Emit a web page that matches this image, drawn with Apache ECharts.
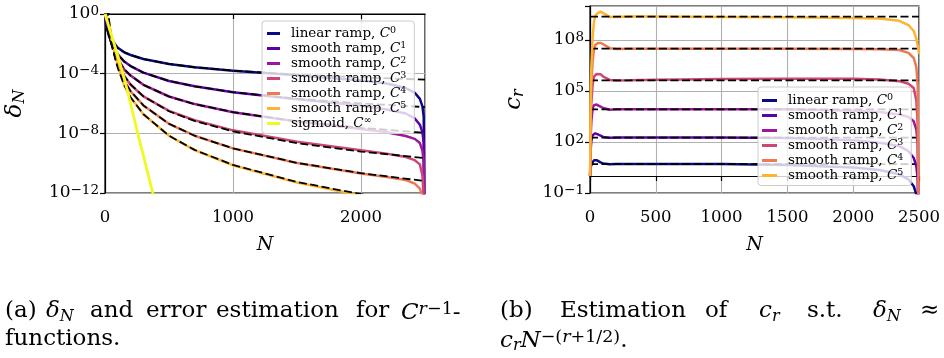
<!DOCTYPE html>
<html>
<head>
<meta charset="utf-8">
<script src="https://cdn.jsdelivr.net/npm/echarts@6/dist/echarts.min.js"></script>
<style>
  html, body { margin: 0; padding: 0; background: #fff; }
  #chart { width: 944px; height: 358px; }
</style>
</head>
<body>
<div id="chart"></div>
<script>
const FONT = 'DejaVu Serif';

// sample positions N used for the solid curves of both panels
const nSolid = [1, 5, 10, 20, 30, 40, 50, 60, 80, 100, 150, 200, 300, 500, 700, 1000, 1500, 2000, 2200, 2350, 2420, 2460, 2480, 2490, 2500];

// panel (a): log10(delta_N)
const deltaC0 = [0, -0.5, -0.85, -1.15, -1.30, -1.47, -1.62, -1.79, -2.05, -2.26, -2.57, -2.75, -3.02, -3.35, -3.57, -3.80, -4.11, -4.45, -4.66, -4.96, -5.28, -5.69, -6.19, -6.89, -20];
const deltaC1 = [0, -0.2, -0.45, -0.85, -1.20, -1.50, -1.76, -2.00, -2.38, -2.70, -3.19, -3.49, -3.93, -4.49, -4.85, -5.24, -5.71, -6.14, -6.40, -6.67, -7.00, -7.42, -7.93, -8.63, -20];
const deltaC2 = [0, -0.1, -0.3, -0.6, -1.0, -1.42, -1.75, -2.05, -2.58, -3.0, -3.72, -4.13, -4.75, -5.53, -6.04, -6.58, -7.20, -7.71, -7.93, -8.18, -8.37, -8.65, -9.16, -9.97, -20];
const deltaC3 = [0, -0.05, -0.2, -0.5, -0.8, -1.25, -1.65, -1.97, -2.57, -3.15, -4.14, -4.74, -5.52, -6.49, -7.12, -7.80, -8.57, -9.14, -9.36, -9.59, -9.80, -10.08, -10.84, -12.25, -20];
const deltaC4 = [0, -0.03, -0.15, -0.4, -0.7, -1.1, -1.55, -1.96, -2.64, -3.25, -4.45, -5.19, -6.13, -7.36, -8.16, -9.01, -9.99, -10.69, -10.93, -11.13, -11.37, -11.71, -12.28, -13.39, -20];
const deltaC5 = [0, -0.02, -0.1, -0.3, -0.55, -1.0, -1.5, -1.95, -2.70, -3.42, -4.78, -5.60, -6.72, -8.16, -9.12, -10.14, -11.30, -12.16, -12.46, -12.78, -13.12, -13.51, -13.98, -14.39, -14.91];

const nSigmoid = [0, 50, 100, 150, 200, 250, 300, 350, 400];
const deltaSigmoid = [0, -1.4, -2.8, -4.3, -6.0, -7.8, -9.5, -11.2, -12.9];

// dashed error estimation c_r N^-(r+1/2), log10
const nEstimate = [2, 5, 10, 20, 30, 40, 50, 60, 80, 100, 150, 200, 300, 500, 700, 1000, 1500, 2000, 2500];
const estC0 = [0.25, -0.35, -0.80, -1.25, -1.52, -1.70, -1.85, -1.97, -2.15, -2.30, -2.56, -2.75, -3.02, -3.35, -3.57, -3.80, -4.06, -4.25, -4.40];
const estC1 = [1.51, 0.51, -0.24, -0.99, -1.43, -1.75, -1.99, -2.19, -2.50, -2.74, -3.18, -3.49, -3.93, -4.49, -4.85, -5.24, -5.68, -5.99, -6.24];
const estC2 = [2.87, 1.47, 0.42, -0.63, -1.25, -1.69, -2.03, -2.30, -2.74, -3.08, -3.70, -4.13, -4.75, -5.53, -6.04, -6.58, -7.20, -7.63, -7.97];
const estC3 = [4.27, 2.48, 1.13, -0.22, -1.02, -1.58, -2.02, -2.37, -2.93, -3.37, -4.16, -4.72, -5.52, -6.52, -7.17, -7.87, -8.66, -9.22, -9.66];
const estC4 = [5.83, 3.65, 1.99, 0.33, -0.63, -1.32, -1.86, -2.29, -2.98, -3.51, -4.48, -5.17, -6.13, -7.36, -8.16, -9.01, -9.98, -10.67, -11.20];
const estC5 = [7.42, 4.84, 2.88, 0.92, -0.22, -1.03, -1.66, -2.18, -2.99, -3.62, -4.76, -5.58, -6.72, -8.16, -9.11, -10.12, -11.26, -12.08, -12.71];

// panel (b): log10(c_r)
const cC0 = [0, 0.55, 0.65, 0.80, 0.92, 0.93, 0.93, 0.88, 0.80, 0.74, 0.69, 0.70, 0.70, 0.70, 0.70, 0.70, 0.65, 0.50, 0.35, 0.10, -0.20, -0.60, -1.10, -1.80, -5];
const cC1 = [0, 1.55, 2.05, 2.40, 2.49, 2.51, 2.49, 2.45, 2.38, 2.30, 2.25, 2.26, 2.26, 2.26, 2.26, 2.26, 2.23, 2.11, 1.96, 1.76, 1.46, 1.06, 0.56, -0.14, -5];
const cC2 = [0, 2.35, 3.20, 3.95, 4.17, 4.19, 4.20, 4.17, 4.08, 4.00, 3.90, 3.92, 3.92, 3.92, 3.92, 3.92, 3.92, 3.84, 3.77, 3.62, 3.47, 3.22, 2.72, 1.92, -5];
const cC3 = [0, 3.10, 4.30, 5.36, 5.85, 5.96, 6.00, 6.03, 5.99, 5.85, 5.65, 5.62, 5.63, 5.66, 5.68, 5.70, 5.72, 5.72, 5.68, 5.58, 5.43, 5.18, 4.43, 3.03, -5];
const cC4 = [0, 3.82, 5.35, 6.76, 7.42, 7.71, 7.80, 7.82, 7.83, 7.75, 7.52, 7.47, 7.49, 7.49, 7.49, 7.49, 7.48, 7.47, 7.45, 7.41, 7.24, 6.94, 6.39, 5.29, -5];
const cC5 = [0, 4.52, 6.40, 8.16, 9.05, 9.41, 9.54, 9.61, 9.67, 9.58, 9.36, 9.36, 9.38, 9.38, 9.37, 9.36, 9.34, 9.30, 9.26, 9.13, 8.88, 8.53, 8.08, 7.68, 7.18];
// dashed constant estimates (log10 c_r)
const cLevel = [0.70, 2.26, 3.92, 5.63, 7.49, 9.38];
const nLevel = [0, 2500];

const labelText = ['linear ramp, ', 'smooth ramp, ', 'smooth ramp, ', 'smooth ramp, ', 'smooth ramp, ', 'smooth ramp, ', 'sigmoid, '];
const labelSup = ['0', '1', '2', '3', '4', '5', '∞'];
const colors = ['#0d0887', '#5c01a6', '#9c179e', '#cc4778', '#ed7953', '#fdb42f', '#f0f921'];

const deltaSets = [deltaC0, deltaC1, deltaC2, deltaC3, deltaC4, deltaC5];
const estSets = [estC0, estC1, estC2, estC3, estC4, estC5];
const cSets = [cC0, cC1, cC2, cC3, cC4, cC5];

const pairs = (xs, ys) => xs.map((x, i) => [x, ys[i]]);
const names = labelText.map((t, i) => t + 'C' + labelSup[i]);
const legendRich = {};
names.forEach((n, i) => { legendRich[n] = '{t|' + labelText[i] + '}{c|C}{s|' + labelSup[i] + '}'; });

// exponent on the axis -> 10^n label
const pow10 = max => v => (v === max ? '' : '{b|10}{s|' + (v < 0 ? '−' + (-v) : v) + '}');

const tickRich = {
  b: { fontFamily: FONT, fontSize: 17, lineHeight: 20, color: '#000' },
  s: { fontFamily: FONT, fontSize: 13.5, lineHeight: 8, verticalAlign: 'top', color: '#000' }
};

const legendTextRich = {
  t: { fontFamily: FONT, fontSize: 13.5, lineHeight: 15, color: '#000' },
  c: { fontFamily: FONT, fontSize: 13.5, fontStyle: 'italic', lineHeight: 15, color: '#000' },
  s: { fontFamily: FONT, fontSize: 9.5, lineHeight: 6, verticalAlign: 'top', color: '#000' }
};

const capRich = {
  i: { fontFamily: FONT, fontSize: 23, fontStyle: 'italic', lineHeight: 26, color: '#000' },
  sub: { fontFamily: FONT, fontSize: 16, fontStyle: 'italic', lineHeight: 14, verticalAlign: 'bottom', color: '#000' },
  sup: { fontFamily: FONT, fontSize: 17.5, lineHeight: 8, verticalAlign: 'top', color: '#000' },
  supi: { fontFamily: FONT, fontSize: 17.5, fontStyle: 'italic', lineHeight: 8, verticalAlign: 'top', color: '#000' }
};

function xAxisOf(grid, interval) {
  return {
    type: 'value', gridIndex: grid, min: 0, max: 2500, interval: interval,
    name: 'N', nameLocation: 'middle', nameGap: 43,
    nameTextStyle: { fontFamily: FONT, fontStyle: 'italic', fontSize: 19, color: '#000' },
    axisLine: { lineStyle: { color: '#000', width: 1.2 } },
    axisTick: { inside: false, length: 5, lineStyle: { color: '#000', width: 1.2 } },
    axisLabel: { fontFamily: FONT, fontSize: 16.5, color: '#000', margin: 16, showMaxLabel: grid === 1, formatter: v => String(v) },
    splitLine: { show: true, lineStyle: { color: '#b0b0b0', width: 1.1 } }
  };
}

function yAxisOf(grid, min, max, interval, name, gap) {
  return {
    type: 'value', gridIndex: grid, min: min, max: max, interval: interval,
    name: name, nameLocation: 'middle', nameRotate: 90, nameGap: gap,
    nameTextStyle: { rich: capRich, fontFamily: FONT, fontSize: 19, color: '#000' },
    axisLine: { lineStyle: { color: '#000', width: 1.2 } },
    axisTick: { inside: false, length: 5, lineStyle: { color: '#000', width: 1.2 } },
    axisLabel: { formatter: pow10(grid === 0 ? null : max), rich: tickRich, margin: 6 },
    splitLine: { show: true, lineStyle: { color: '#b0b0b0', width: 1.1 } }
  };
}

const series = [];
deltaSets.forEach((d, i) => {
  series.push({
    name: names[i], type: 'line', xAxisIndex: 0, yAxisIndex: 0, data: pairs(nSolid, d),
    symbol: 'none', lineStyle: { color: colors[i], width: 2.5 }, itemStyle: { color: colors[i] }
  });
  series.push({
    name: 'estimate a' + i, type: 'line', xAxisIndex: 0, yAxisIndex: 0, data: pairs(nEstimate, estSets[i]),
    symbol: 'none', silent: true, lineStyle: { color: '#000', width: 1.8, type: [8, 3.5] }
  });
});
series.push({
  name: names[6], type: 'line', xAxisIndex: 0, yAxisIndex: 0, data: pairs(nSigmoid, deltaSigmoid),
  symbol: 'none', lineStyle: { color: colors[6], width: 2.8 }, itemStyle: { color: colors[6] }
});
cSets.forEach((c, i) => {
  series.push({
    name: names[i], type: 'line', xAxisIndex: 1, yAxisIndex: 1, data: pairs(nSolid, c),
    symbol: 'none', lineStyle: { color: colors[i], width: 2.5 }, itemStyle: { color: colors[i] }
  });
  series.push({
    name: 'estimate b' + i, type: 'line', xAxisIndex: 1, yAxisIndex: 1, data: pairs(nLevel, [cLevel[i], cLevel[i]]),
    symbol: 'none', silent: true, lineStyle: { color: '#000', width: 1.8, type: [8, 3.5] }
  });
});

function legendOf(left, top, data, iconW, pad) {
  return {
    orient: 'vertical', left: left, top: top, data: data,
    icon: 'rect', itemWidth: iconW, itemHeight: 3, itemGap: 0.5,
    padding: pad, backgroundColor: 'rgba(255,255,255,0.8)',
    borderColor: '#cccccc', borderWidth: 1, borderRadius: 3,
    selectedMode: false,
    formatter: n => legendRich[n],
    textStyle: { rich: legendTextRich, padding: [0, 0, 0, 6] }
  };
}

// captions are justified, so each word is placed on its own
const capStyle = { fontFamily: FONT, fontSize: 23, fill: '#000', rich: capRich };
const caption = (x, y, text) => ({ type: 'text', left: x, top: y, style: Object.assign({ text: text }, capStyle) });
const capLineA = [[5, '(a)'], [46, '{i|δ}{sub|N}'], [90, 'and'], [146, 'error'], [216, 'estimation'], [356, 'for'], [401, '{i|C}{supi|r}{sup|−1}-']];
const capLineB = [[500, '(b)'], [560, 'Estimation'], [705, 'of'], [759, '{i|c}{sub|r}'], [807, 's.t.'], [873, '{i|δ}{sub|N}'], [920, '≈']];

const option = {
  animation: false,
  backgroundColor: '#fff',
  grid: [
    { left: 105, top: 14, width: 320, height: 179, show: true, borderColor: '#000', borderWidth: 1.2 },
    { left: 590, top: 6, width: 329, height: 187, show: true, borderColor: '#000', borderWidth: 1.2 }
  ],
  xAxis: [xAxisOf(0, 1000), xAxisOf(1, 500)],
  yAxis: [
    yAxisOf(0, -12, 0, 4, '{i|δ}{sub|N}', 77),
    yAxisOf(1, -1, 10, 3, '{i|c}{sub|r}', 63)
  ],
  legend: [
    legendOf(262, 21, names, 13, [5, 8, 3, 5]),
    legendOf(758, 87, names.slice(0, 6), 15, [6, 8, 3, 4])
  ],
  series: series,
  graphic: capLineA.map(w => caption(w[0], 300, w[1]))
    .concat(capLineB.map(w => caption(w[0], 300, w[1])))
    .concat([
      caption(5, 328, 'functions.'),
      caption(500, 328, '{i|c}{sub|r}{i|N}{sup|−(}{supi|r}{sup|+1/2)}.')
    ])
};

const chart = echarts.init(document.getElementById('chart'));
chart.setOption(option);
</script>
</body>
</html>
